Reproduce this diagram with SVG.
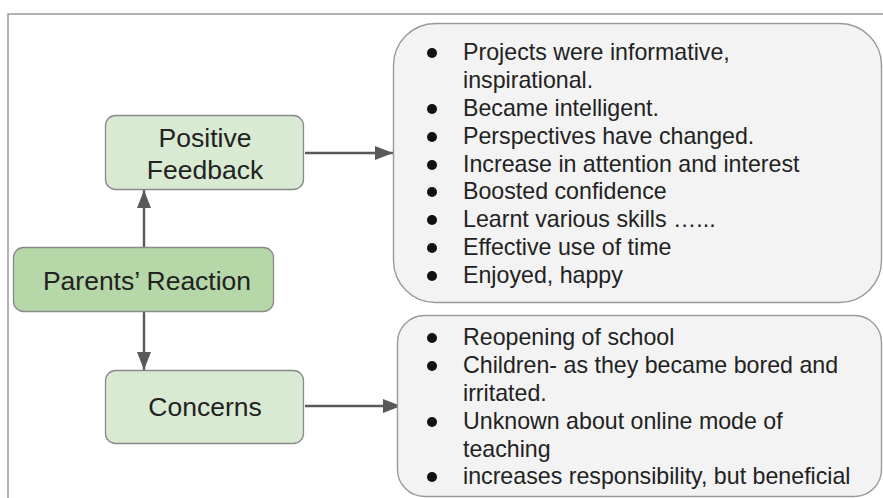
<svg xmlns="http://www.w3.org/2000/svg" width="883" height="498" viewBox="0 0 883 498">
  <defs>
    <marker id="arrow" viewBox="0 0 18 14" refX="18" refY="7" markerWidth="18" markerHeight="14" markerUnits="userSpaceOnUse" orient="auto">
      <path d="M0,0 L18,7 L0,14 Z" fill="#595959"/>
    </marker>
    <style>
      .frame { fill: none; stroke: #9a9a9a; stroke-width: 1.5; }
      .node { stroke: #8a8a8a; stroke-width: 1.3; }
      .light { fill: #d9ead3; }
      .dark { fill: #b6d7a8; }
      .list { fill: #f3f3f3; stroke: #9a9a9a; stroke-width: 1.4; }
      .label { font-family: "Liberation Sans", Arial, sans-serif; font-size: 26.5px; fill: #222; text-anchor: middle; }
      .item { font-family: "Liberation Sans", Arial, sans-serif; font-size: 23.2px; fill: #222; }
      .dot { fill: #111; }
      .edge { stroke: #595959; stroke-width: 2.4; fill: none; marker-end: url(#arrow); }
    </style>
  </defs>

  <rect width="883" height="498" fill="#ffffff"/>
  <!-- page frame: top and left rules only -->
  <path class="frame" d="M8,498 V14 H883"/>

  <g id="connectors">
    <line class="edge" x1="144" y1="247" x2="144" y2="190"/>
    <line class="edge" x1="144" y1="312" x2="144" y2="370"/>
    <line class="edge" x1="305" y1="153" x2="393" y2="153"/>
    <line class="edge" x1="305" y1="406" x2="401" y2="406"/>
  </g>

  <g id="parents-reaction">
    <rect class="node dark" x="13.5" y="247.5" width="260" height="64" rx="10"/>
    <text class="label" x="147" y="289.5">Parents’ Reaction</text>
  </g>

  <g id="positive-feedback">
    <rect class="node light" x="105.5" y="115.5" width="198" height="74" rx="10"/>
    <text class="label" x="205" y="147">Positive</text>
    <text class="label" x="205" y="178.5">Feedback</text>
  </g>

  <g id="concerns">
    <rect class="node light" x="105.5" y="370.5" width="198" height="73" rx="10"/>
    <text class="label" x="205" y="416">Concerns</text>
  </g>

  <g id="positive-list">
    <rect class="list" x="393.5" y="23.5" width="488" height="279" rx="42"/>
    <g class="dot">
      <circle cx="432" cy="53" r="5"/>
      <circle cx="432" cy="109" r="5"/>
      <circle cx="432" cy="137" r="5"/>
      <circle cx="432" cy="165" r="5"/>
      <circle cx="432" cy="192" r="5"/>
      <circle cx="432" cy="220" r="5"/>
      <circle cx="432" cy="248" r="5"/>
      <circle cx="432" cy="276" r="5"/>
    </g>
    <text class="item" x="463" y="60">Projects were informative,</text>
    <text class="item" x="463" y="88">inspirational.</text>
    <text class="item" x="463" y="116">Became intelligent.</text>
    <text class="item" x="463" y="144">Perspectives have changed.</text>
    <text class="item" x="463" y="172">Increase in attention and interest</text>
    <text class="item" x="463" y="199">Boosted confidence</text>
    <text class="item" x="463" y="227">Learnt various skills …...</text>
    <text class="item" x="463" y="255">Effective use of time</text>
    <text class="item" x="463" y="283">Enjoyed, happy</text>
  </g>

  <g id="concerns-list">
    <rect class="list" x="397.5" y="315.5" width="484" height="181" rx="27"/>
    <g class="dot">
      <circle cx="432" cy="338" r="5"/>
      <circle cx="432" cy="366" r="5"/>
      <circle cx="432" cy="422" r="5"/>
      <circle cx="432" cy="477" r="5"/>
    </g>
    <text class="item" x="463" y="345">Reopening of school</text>
    <text class="item" x="463" y="373">Children- as they became bored and</text>
    <text class="item" x="463" y="401">irritated.</text>
    <text class="item" x="463" y="429">Unknown about online mode of</text>
    <text class="item" x="463" y="457">teaching</text>
    <text class="item" x="463" y="484">increases responsibility, but beneficial</text>
  </g>
</svg>
